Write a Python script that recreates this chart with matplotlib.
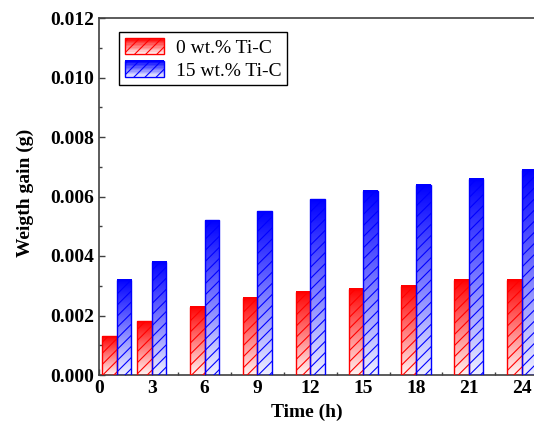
import numpy as np
import matplotlib
matplotlib.use("Agg")
import matplotlib.pyplot as plt
from matplotlib.colors import LinearSegmentedColormap
from matplotlib.patches import Rectangle
from matplotlib.legend_handler import HandlerBase
from matplotlib.ticker import MultipleLocator, FormatStrFormatter

plt.rcParams['font.family'] = ['Liberation Serif', 'DejaVu Serif']
plt.rcParams['hatch.linewidth'] = 0.8

# data
hours = [1, 3, 6, 9, 12, 15, 18, 21, 24]
gain_0 = [0.0013, 0.0018, 0.0023, 0.0026, 0.0028, 0.0029, 0.0030, 0.0032, 0.0032]
gain_15 = [0.0032, 0.0038, 0.0052, 0.0055, 0.0059, 0.0062, 0.0064, 0.0066, 0.0069]
labels = ["0 wt.% Ti-C", "15 wt.% Ti-C"]
xticks = [0, 3, 6, 9, 12, 15, 18, 21, 24]

red = "#ff0000"
blue = "#0000ff"
cmaps = {
    red: LinearSegmentedColormap.from_list("r", ["#fff4f4", red]),
    blue: LinearSegmentedColormap.from_list("b", ["#f0f0ff", blue]),
}

fig = plt.figure(figsize=(5.34, 4.32), dpi=100)
ax = fig.add_axes([99 / 534, 57 / 432, 449 / 534, 357 / 432])

w = 0.83
grad = np.linspace(0, 1, 256).reshape(-1, 1)


def gradient_bars(x, vals, col):
    bars = ax.bar(x, vals, width=w, align='edge', facecolor='none',
                  edgecolor=col, hatch='///', linewidth=1.0, zorder=3)
    for b in bars:
        bx, bw, bh = b.get_x(), b.get_width(), b.get_height()
        ax.imshow(grad, extent=[bx, bx + bw, 0, bh], origin='lower',
                  cmap=cmaps[col], aspect='auto', zorder=2)
    return bars


x = np.array(hours, dtype=float)
gradient_bars(x - w, gain_0, red)
gradient_bars(x, gain_15, blue)


class GradHandler(HandlerBase):
    def __init__(self, col):
        super().__init__()
        self.col = col

    def create_artists(self, legend, orig_handle, xdescent, ydescent,
                       width, height, fontsize, trans):
        arts = []
        n = 12
        for i in range(n):
            r = Rectangle((-xdescent, -ydescent + height * i / n), width, height / n + 0.3,
                          facecolor=cmaps[self.col](i / (n - 1)), edgecolor='none',
                          transform=trans)
            arts.append(r)
        top = Rectangle((-xdescent, -ydescent), width, height, facecolor='none',
                        edgecolor=self.col, hatch='///', linewidth=1.0, transform=trans)
        arts.append(top)
        return arts


h0 = Rectangle((0, 0), 1, 1)
h1 = Rectangle((0, 0), 1, 1)
leg = ax.legend([h0, h1], labels, handler_map={h0: GradHandler(red), h1: GradHandler(blue)},
                loc='upper left', bbox_to_anchor=(0.045, 0.96), fontsize=14,
                frameon=True, fancybox=False, edgecolor='black', framealpha=1,
                handlelength=2.0, handleheight=0.9, handletextpad=0.6,
                borderpad=0.3, labelspacing=0.2, borderaxespad=0)
leg.get_frame().set_linewidth(1.0)

ax.set_xlim(0, 25.5)
ax.set_ylim(0, 0.012)
ax.set_xticks(xticks)
ax.xaxis.set_minor_locator(MultipleLocator(1.5))
ax.yaxis.set_major_locator(MultipleLocator(0.002))
ax.yaxis.set_minor_locator(MultipleLocator(0.001))
ax.yaxis.set_major_formatter(FormatStrFormatter('%.3f'))

ax.tick_params(which='both', direction='in', colors='#404040', labelcolor='black',
               labelsize=14, top=False, right=False)
ax.tick_params(which='major', length=4, width=1)
ax.tick_params(which='minor', length=2.5, width=1)
for lab in ax.get_xticklabels() + ax.get_yticklabels():
    lab.set_fontweight('bold')
for s in ax.spines.values():
    s.set_color('#404040')
    s.set_linewidth(1.2)

ax.set_xlabel("Time (h)", fontsize=14, fontweight='bold')
ax.set_ylabel("Weigth gain (g)", fontsize=14, fontweight='bold')
ax.xaxis.set_label_coords(208 / 449, -0.08)
ax.yaxis.set_label_coords(-0.145, 0.51)

fig.savefig("out.png", dpi=100)
